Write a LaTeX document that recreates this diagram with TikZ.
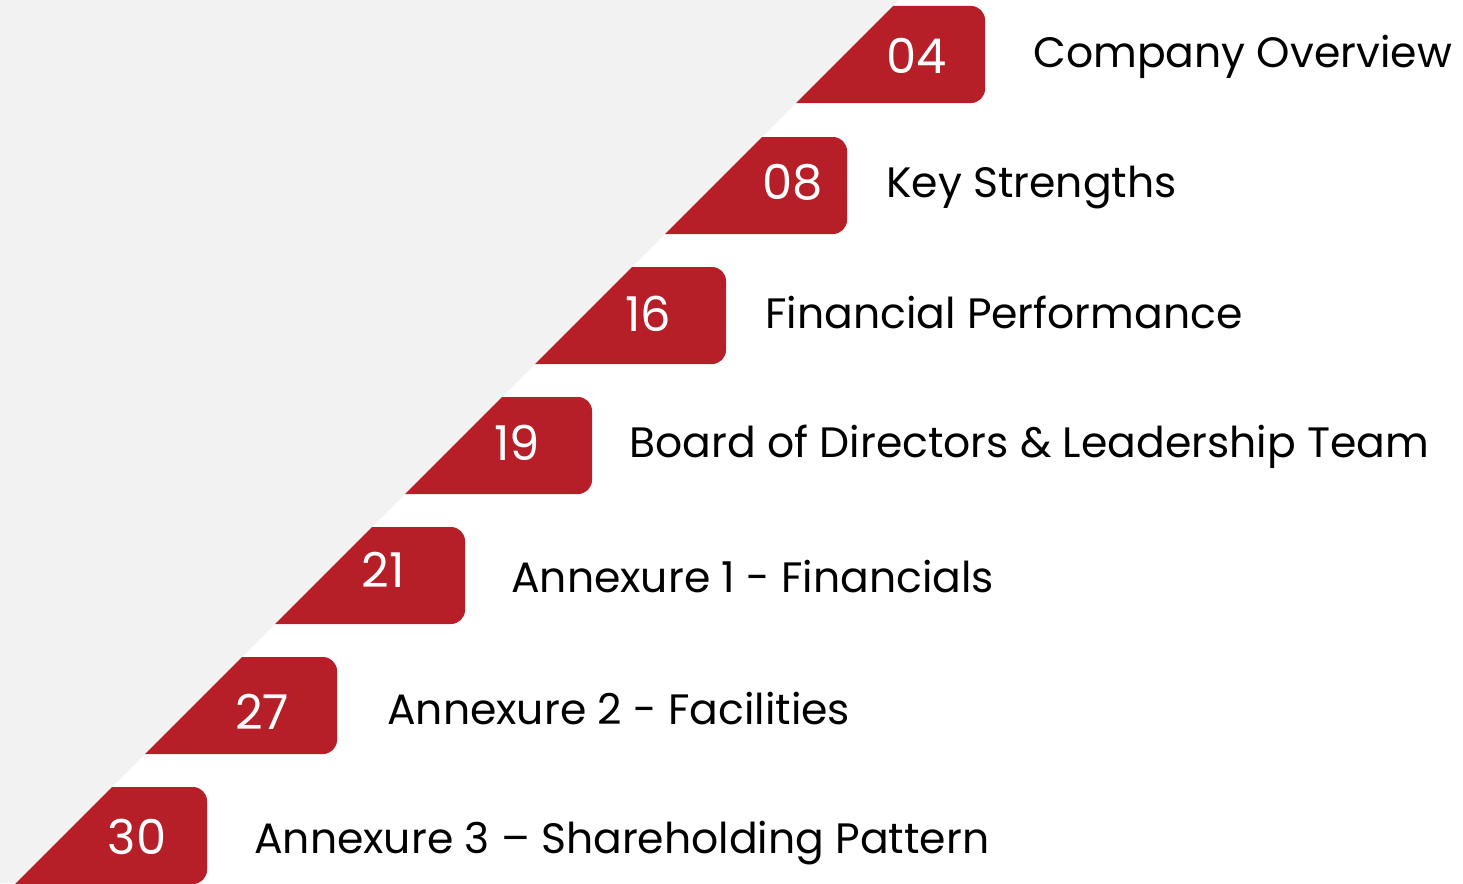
\documentclass[tikz,border=0pt]{standalone}
\usepackage{fontspec}
\setmainfont{Poppins}
\definecolor{tocred}{HTML}{B71F28}
\definecolor{tocgray}{HTML}{F2F2F2}
\begin{document}
\begin{tikzpicture}[x=1pt,y=-1pt,
  numtext/.style={text=white,inner sep=0pt,anchor=center,font=\fontsize{48}{48}\selectfont},
  labtext/.style={text=black,inner sep=0pt,anchor=base west,font=\fontsize{42.5}{43}\selectfont},
  tocbox/.style={fill=tocred}]
\useasboundingbox (0,0) rectangle (1463,883);
\fill[tocgray] (0,0) -- (899,0) -- (16,883) -- (0,883) -- cycle;
% boxes: top y, right x
\foreach \yt/\xr in {6/985,137/847,267/726,397/592,527/465,657/337,787/207}{
  \pgfmathsetmacro{\yb}{\yt+97}
  \pgfmathsetmacro{\xa}{899-\yt}
  \pgfmathsetmacro{\xb}{899-\yb}
  \fill[tocbox] (\xa,\yt) [rounded corners=14] -- (\xr,\yt) -- (\xr,\yb) [sharp corners] -- (\xb,\yb) -- cycle;
}
\node[numtext] (n1) at (917,56) {04};
\node[numtext] (n2) at (793,182) {08};
\node[numtext] (n3) at (648,314) {16};
\node[numtext] (n4) at (517,443) {19};
\node[numtext] (n5) at (383,570) {21};
\node[numtext] (n6) at (262,712) {27};
\node[numtext] (n7) at (137,837) {30};
\node[labtext] (l1) at (1033,67) {Company Overview};
\node[labtext] (l2) at (886,197) {Key Strengths};
\node[labtext] (l3) at (765,328) {Financial Performance};
\node[labtext] (l4) at (629,457) {Board of Directors \& Leadership Team};
\node[labtext] (l5) at (511,592) {Annexure 1 - Financials};
\node[labtext] (l6) at (387,724) {Annexure 2 - Facilities};
\node[labtext] (l7) at (254,853) {Annexure 3 – Shareholding Pattern};
\end{tikzpicture}
\end{document}
